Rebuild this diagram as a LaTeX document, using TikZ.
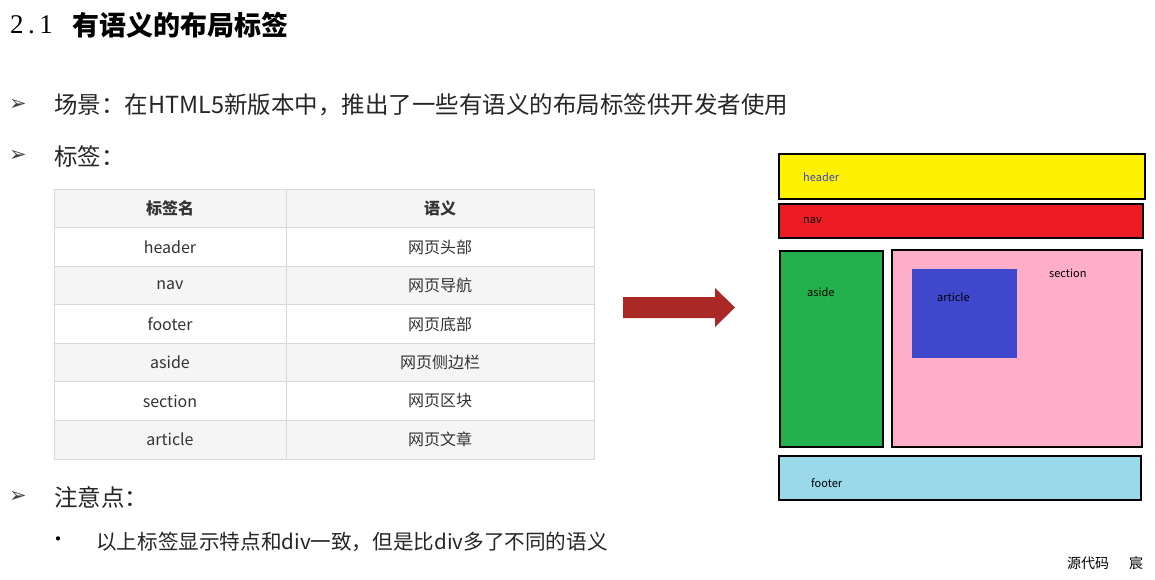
\documentclass[tikz,border=0pt]{standalone}
\usepackage{fontspec}
\setmainfont{Noto Sans CJK SC}
\newfontfamily\serifnum{Liberation Serif}
\newfontfamily\symf{DejaVu Sans}
\begin{document}
\begin{tikzpicture}[x=1pt,y=-1pt,
  txt/.style={anchor=west,inner sep=0pt,font=\fontsize{23.5}{23.5}\selectfont,text=black!85},
  bul/.style={anchor=center,inner sep=0pt,font=\symf\fontsize{21}{21}\selectfont,text=black!75},
  cell/.style={inner sep=0pt,font=\fontsize{16}{16}\selectfont,text=black!80},
  box/.style={draw=black,line width=2.5pt},
  lab/.style={anchor=west,inner sep=0pt,font=\fontsize{11}{11}\selectfont}]
\useasboundingbox[fill=white] (0,0) rectangle (1155,580);
\node[anchor=west,inner sep=0pt] (title) at (10,25) {\serifnum\fontsize{27}{27}\selectfont 2\,.\,1};
\node[anchor=west,inner sep=0pt] (title2) at (72,25) {\fontsize{27}{27}\selectfont\bfseries 有语义的布局标签};
\node[bul] (b1) at (18,105) {➢};
\node[txt] (t1) at (54,105) {场景：在HTML5新版本中，推出了一些有语义的布局标签供开发者使用};
\node[bul] (b2) at (18,156) {➢};
\node[txt] (t2) at (54,156) {标签：};
% table
\foreach \r/\yy in {0/189,2/266,4/343,6/421}
  \fill[black!4] (54,\yy) rectangle (594,\yy+38.5);
\draw[black!15] (54,189) rectangle (594,459);
\foreach \i in {1,...,6} \draw[black!15] (54,189+\i*38.5) -- (594,189+\i*38.5);
\draw[black!15] (286,189) -- (286,459);
\node[cell,font=\fontsize{16}{16}\selectfont\bfseries] (h1) at (170,208.5) {标签名};
\node[cell,font=\fontsize{16}{16}\selectfont\bfseries] (h2) at (440,208.5) {语义};
\foreach \a/\b [count=\i] in {header/网页头部,nav/网页导航,footer/网页底部,aside/网页侧边栏,section/网页区块,article/网页文章}{
  \node[cell] (c\i a) at (170,208.5+\i*38.5) {\a};
  \node[cell] (c\i b) at (440,208.5+\i*38.5) {\b};
}
\node[bul] (b3) at (18,497) {➢};
\node[txt] (t3) at (54,497) {注意点：};
\node[inner sep=0pt,font=\fontsize{20}{20}\selectfont] (dot) at (58,542) {•};
\node[txt,font=\fontsize{20.6}{20.6}\selectfont] (t4) at (96,542) {以上标签显示特点和div一致，但是比div多了不同的语义};
% arrow
\fill[fill={rgb,255:red,170;green,40;blue,38}] (623,297) -- (715,297) -- (715,288) -- (735,307.5) -- (715,327) -- (715,318) -- (623,318) -- cycle;
% layout
\draw[box,fill={rgb,255:red,255;green,242;blue,0}] (779,154) rectangle (1145,199);
\node[lab,text={rgb,255:red,60;green,70;blue,200}] (lh) at (803,177) {header};
\draw[box,fill={rgb,255:red,237;green,28;blue,36}] (779,204) rectangle (1143,238);
\node[lab] (ln) at (803,221) {nav};
\draw[box,fill={rgb,255:red,34;green,177;blue,76}] (780,251) rectangle (883,447);
\node[lab] (la) at (807,292) {aside};
\draw[box,fill={rgb,255:red,255;green,174;blue,201}] (892,250) rectangle (1142,447);
\node[lab] (ls) at (1049,273) {section};
\fill[fill={rgb,255:red,63;green,72;blue,204}] (912,269) rectangle (1017,358);
\node[lab] (lar) at (937,297) {article};
\draw[box,fill={rgb,255:red,153;green,217;blue,234}] (779,456) rectangle (1141,500);
\node[lab] (lf) at (811,483) {footer};
\node[anchor=west,inner sep=0pt,font=\fontsize{14}{14}\selectfont] (wm) at (1067,563) {源代码\hspace{20pt}宸};
\end{tikzpicture}
\end{document}
